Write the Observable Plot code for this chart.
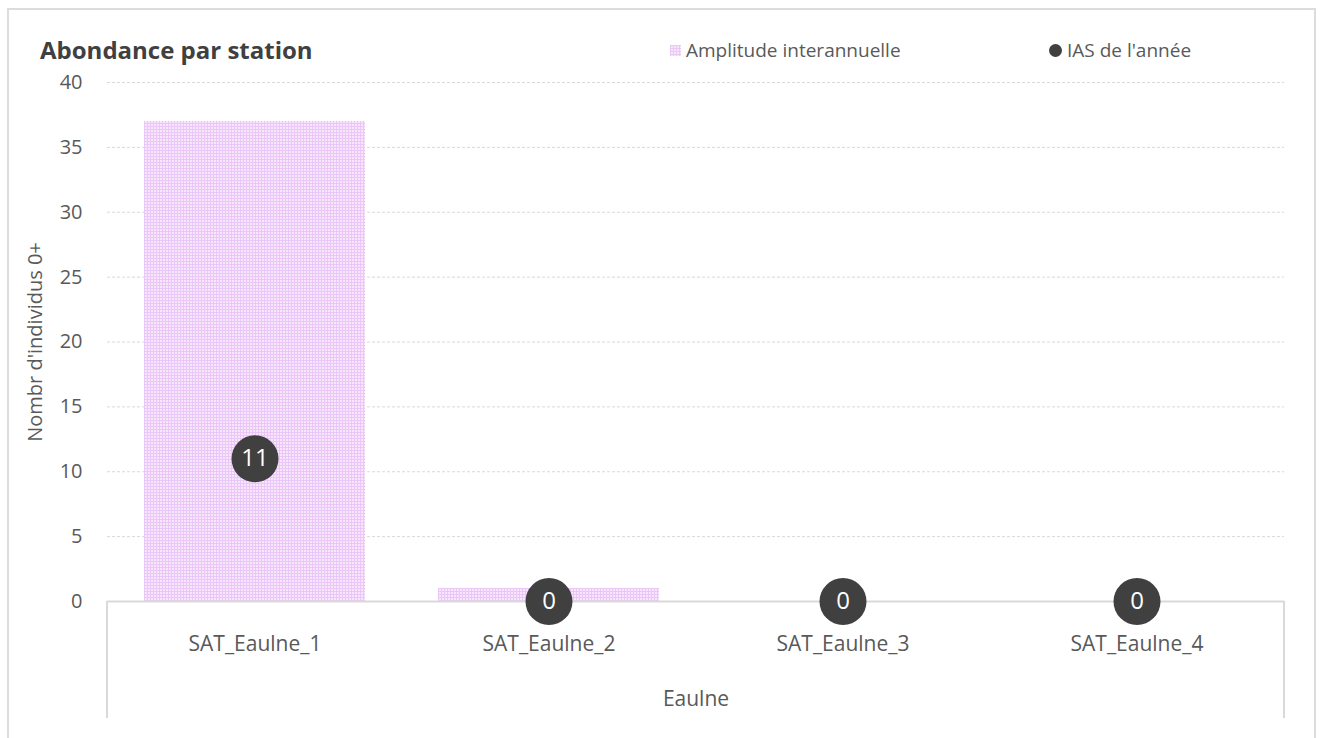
<!DOCTYPE html>
<html>
<head>
<meta charset="utf-8">
<script src="https://cdn.jsdelivr.net/npm/d3@7"></script>
<script src="https://cdn.jsdelivr.net/npm/@observablehq/plot@0.6"></script>
<style>
  html, body { margin: 0; padding: 0; background: #fff; overflow: hidden; }
  body { font-family: "Open Sans", sans-serif; }
  #wrap { position: relative; width: 1322px; height: 738px; }
  #border { position: absolute; left: 7px; top: 8px; width: 1309px; height: 740px;
            border: 2px solid #dcdcdc; box-sizing: border-box; }
  #title { position: absolute; left: 40px; top: 33px; font-size: 24px; font-weight: 700; color: #404040; }
  .leg { position: absolute; top: 37px; font-size: 19px; color: #595959; display: flex; align-items: center; }
  .sw { width: 11px; height: 11px; margin-right: 5px; }
  .dotsw { width: 13px; height: 13px; border-radius: 50%; background: #404040; margin-right: 5px; }
  svg { position: absolute; left: 0; top: 0; }
</style>
</head>
<body>
<div id="wrap">
  <div id="border"></div>
  <div id="chart"></div>
  <div id="title">Abondance par station</div>
  <div class="leg" style="left:670px"><svg class="sw" style="position:static" width="11" height="11"><rect width="11" height="11" fill="url(#pat)"/></svg>Amplitude interannuelle</div>
  <div class="leg" style="left:1049px"><span class="dotsw"></span>IAS de l'année</div>
</div>
<script>
const stations = ["SAT_Eaulne_1", "SAT_Eaulne_2", "SAT_Eaulne_3", "SAT_Eaulne_4"];
const amplitude = [37, 1, 0, 0];
const ias = [11, 0, 0, 0];
const yTicks = [0, 5, 10, 15, 20, 25, 30, 35, 40];
const groupLabel = "Eaulne";
const yLabel = "Nombr d'individus 0+";

const data = stations.map((s, i) => ({station: s, amplitude: amplitude[i], ias: ias[i]}));

const plot = Plot.plot({
  width: 1322,
  height: 738,
  marginLeft: 107,
  marginRight: 38,
  marginTop: 82,
  marginBottom: 137,
  style: {fontFamily: "Open Sans, sans-serif", background: "transparent", overflow: "visible"},
  x: {domain: stations, paddingInner: 0.25, paddingOuter: 0.125, label: null},
  y: {domain: [0, 40], ticks: yTicks, label: null},
  marks: [
    Plot.ruleY(yTicks.filter(d => d > 0), {stroke: "#d9d9d9", strokeDasharray: "3,2", strokeWidth: 1}),
    Plot.barY(data, {x: "station", y: "amplitude", fill: "url(#pat)"}),
    Plot.ruleY([0], {stroke: "#d9d9d9", strokeWidth: 2}),
    Plot.axisY({ticks: yTicks, tickSize: 0, tickPadding: 25, fontSize: 20, color: "#595959", label: null}),
    Plot.axisX({tickSize: 0, tickPadding: 35, fontSize: 21, color: "#595959", label: null}),
    Plot.text([yLabel], {frameAnchor: "left", textAnchor: "middle", dx: -72, rotate: -90, fontSize: 20, fill: "#595959"}),
    Plot.text([groupLabel], {frameAnchor: "bottom", dy: 104, fontSize: 21, fill: "#595959"}),
    Plot.dot(data, {x: "station", y: "ias", r: 23.5, fill: "#404040", stroke: null}),
    Plot.text(data, {x: "station", y: "ias", text: d => String(d.ias), fill: "white", fontSize: 24})
  ]
});

// pattern definition
const svg = d3.select(plot);
const defs = svg.insert("defs", ":first-child");
const pat = defs.append("pattern").attr("id", "pat").attr("patternUnits", "userSpaceOnUse")
  .attr("width", 3).attr("height", 3);
pat.append("rect").attr("width", 3).attr("height", 3).attr("fill", "#f7e6fc");
pat.append("rect").attr("width", 3).attr("height", 1).attr("fill", "#ebc6f8");
pat.append("rect").attr("width", 1).attr("height", 3).attr("fill", "#ebc6f8");

// category-axis bracket lines at the edges of the band scale
const xs = plot.scale("x");
const ys = plot.scale("y");
const y0 = ys.apply(0);
[xs.range[0], xs.range[1]].forEach(x => {
  svg.append("line").attr("x1", x).attr("x2", x).attr("y1", y0).attr("y2", y0 + 117)
    .attr("stroke", "#d9d9d9").attr("stroke-width", 2);
});

document.getElementById("chart").appendChild(plot);
</script>
</body>
</html>
